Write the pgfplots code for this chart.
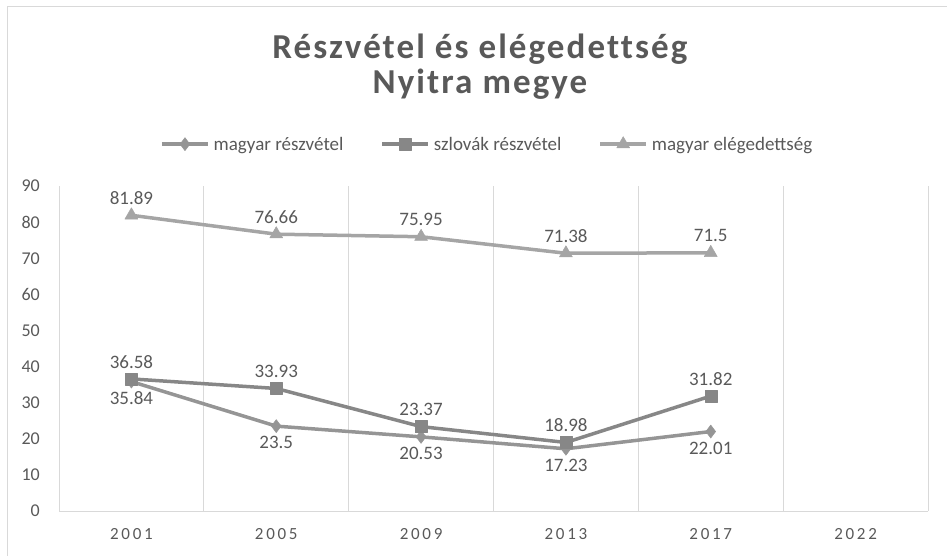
\documentclass[border=0pt]{standalone}
\usepackage{pgfplots}
\pgfplotsset{compat=1.18}
\usepackage{fontspec}
\setmainfont{Carlito}
\newfontfamily\titlefont{Carlito}[LetterSpace=6, Ligatures=NoCommon]
\newfontfamily\xfont{Carlito}[LetterSpace=16]
\definecolor{txt}{HTML}{595959}
\definecolor{gridc}{HTML}{D9D9D9}
\definecolor{cA}{HTML}{959595}
\definecolor{cB}{HTML}{878787}
\definecolor{cC}{HTML}{A5A5A5}
\begin{document}
\begin{tikzpicture}
\useasboundingbox (0bp,0bp) rectangle (947bp,556bp);
\draw[gridc, line width=1bp] (7bp,0bp) -- (7bp,549bp) -- (947bp,549bp);
\node[anchor=base, text=txt, inner sep=0pt, font=\titlefont\fontsize{35bp}{40bp}\selectfont\bfseries] at (480bp,497bp) {Részvétel és elégedettség};
\node[anchor=base, text=txt, inner sep=0pt, font=\titlefont\fontsize{35bp}{40bp}\selectfont\bfseries] at (480bp,462bp) {Nyitra megye};
\begin{axis}[
  at={(59bp,45bp)}, anchor=south west, scale only axis, width=869bp, height=325bp,
  xmin=-0.5, xmax=5.5, ymin=0, ymax=90,
  ytick={0,10,...,90},
  xtick={0,...,5}, xticklabels={2001,2005,2009,2013,2017,2022},
  minor xtick={-0.5,0.5,...,5.5},
  xminorgrids, minor grid style={gridc, line width=1bp},
  major tick length=0pt, minor tick length=0pt,
  axis x line*=bottom, axis y line*=left,
  axis line style={gridc, line width=1bp, -},
  tick label style={text=txt},
  yticklabel style={font=\fontsize{18bp}{20bp}\selectfont, anchor=east, inner sep=0pt, xshift=-19bp},
  xticklabel style={font=\xfont\fontsize{17bp}{20bp}\selectfont, anchor=base, inner sep=0pt, yshift=-28bp},
  /pgf/number format/assume math mode=true,
  clip=false,
  legend columns=3,
  legend style={draw=none, fill=none, at={(0.1128,1.129)}, anchor=west,
    font=\fontsize{19bp}{22bp}\selectfont, text=txt,
    /tikz/every even column/.append style={column sep=37bp},
    /tikz/every odd column/.append style={column sep=4bp},
    nodes={inner sep=0pt}},
  legend image code/.code={\draw[mark repeat=2,mark phase=2] plot coordinates {(0bp,0bp)(23bp,0bp)(46bp,0bp)};},
  nodes near coords,
  every node near coord/.append style={font=\fontsize{19bp}{22bp}\selectfont, text=txt, inner sep=0pt},
]
\addplot[cA, line width=3.5bp, line join=round, mark=diamond*, mark size=6.5bp, mark options={solid, fill=cA, line width=0.5bp},
  every node near coord/.append style={anchor=north, yshift=-10bp}]
  coordinates {(0,35.84)(1,23.5)(2,20.53)(3,17.23)(4,22.01)};
\addlegendentry{magyar részvétel}
\addplot[cB, line width=3.5bp, line join=round, mark=square*, mark size=6bp, mark options={solid, fill=cB, line width=0.5bp},
  every node near coord/.append style={anchor=south, yshift=10.5bp}]
  coordinates {(0,36.58)(1,33.93)(2,23.37)(3,18.98)(4,31.82)};
\addlegendentry{szlovák részvétel}
\addplot[cC, line width=3.5bp, line join=round, mark=triangle*, mark size=7.5bp, mark options={solid, fill=cC, line width=0.5bp},
  every node near coord/.append style={anchor=south, yshift=10.5bp}]
  coordinates {(0,81.89)(1,76.66)(2,75.95)(3,71.38)(4,71.5)};
\addlegendentry{magyar elégedettség}
\end{axis}
\end{tikzpicture}
\end{document}
